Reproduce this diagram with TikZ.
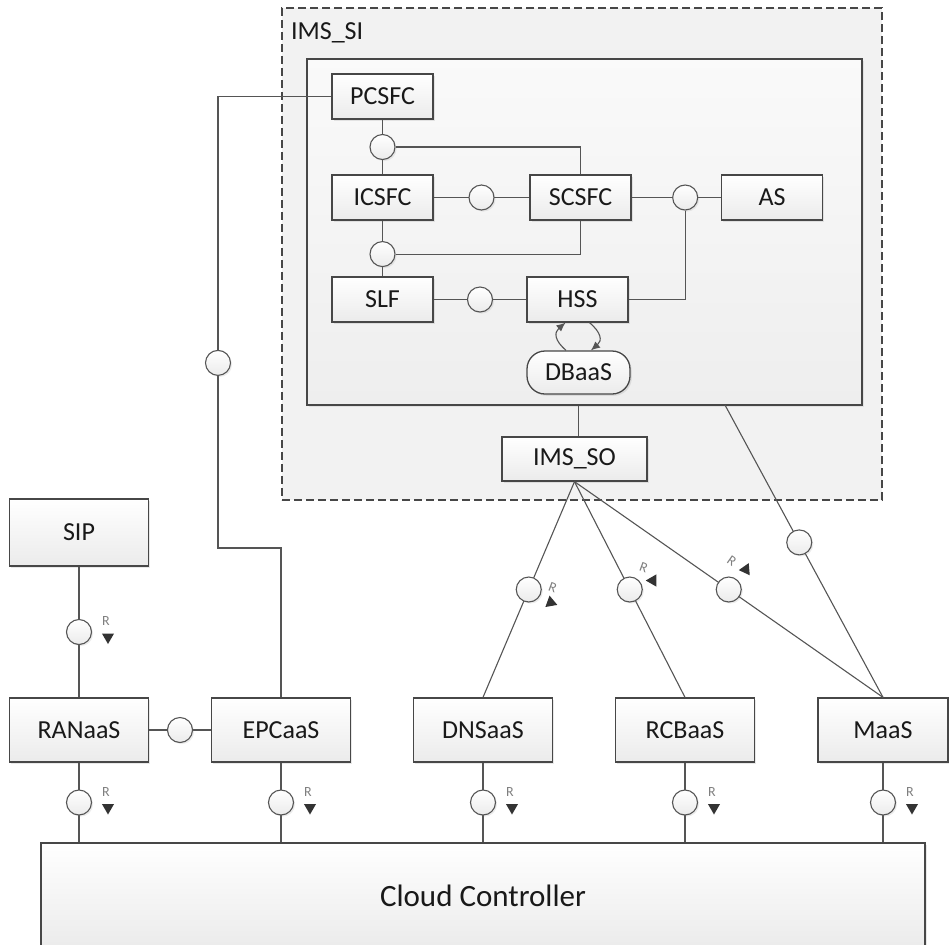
\documentclass[tikz,border=0pt]{standalone}
\usepackage{fontspec}
\setmainfont{Carlito}
\usepackage{tikz}
\usetikzlibrary{arrows.meta,positioning,calc,shapes.geometric,shadows}
\definecolor{FrameGray}{HTML}{474747}
\definecolor{LinkGray}{HTML}{555555}
\definecolor{ShadeLow}{HTML}{EBEBEB}
\definecolor{ZoneFill}{HTML}{F2F2F2}
\definecolor{InnerLow}{HTML}{EEEEEE}
\definecolor{TagGray}{HTML}{7F7F7F}

\begin{document}
\begin{tikzpicture}[>=Latex,x=0.5pt,y=0.5pt,
  svc/.style={draw=FrameGray,line width=0.65pt,top color=white,bottom color=ShadeLow,minimum width=69.5pt,minimum height=32pt,inner sep=0pt,text=black!90,font=\fontsize{13}{15}\selectfont,drop shadow={opacity=0.18,shadow xshift=0.9pt,shadow yshift=-0.9pt}},
  fn/.style={svc,minimum width=50.5pt,minimum height=22.5pt},
  iface/.style={circle,draw=LinkGray,line width=0.55pt,top color=white,bottom color=ShadeLow,minimum size=12.5pt,inner sep=0pt,drop shadow={opacity=0.15,shadow xshift=0.8pt,shadow yshift=-0.8pt}},
  link/.style={draw=LinkGray,line width=0.55pt},
  rtag/.style={text=TagGray,font=\fontsize{7}{8}\selectfont,inner sep=0pt},
  rtip/.style={regular polygon,regular polygon sides=3,fill=black!80,inner sep=0pt,minimum size=7pt}]
\useasboundingbox (0,0) rectangle (949,-944);

% IMS_SI zone and its inner frame
\node[draw=FrameGray,dashed,dash pattern=on 4pt off 2pt,line width=0.6pt,fill=ZoneFill,minimum width=300pt,minimum height=246pt,inner sep=0pt] (imssi) at (582,-254) {};
\node[anchor=base west,font=\fontsize{13}{15}\selectfont,text=black!90] (sititle) at (284,-39) {IMS\_SI};
\node[draw=FrameGray,line width=0.65pt,top color=white!60!ZoneFill,bottom color=InnerLow,minimum width=277.5pt,minimum height=173pt,inner sep=0pt,drop shadow={opacity=0.15,shadow xshift=0.9pt,shadow yshift=-0.9pt}] (inner) at (584.5,-232) {};

% functions inside the IMS_SI
\node[fn] (pcsfc) at (382.5,-96.5) {PCSFC};
\node[fn] (icsfc) at (382.5,-197.5) {ICSFC};
\node[fn] (scsfc) at (580.5,-197.5) {SCSFC};
\node[fn] (as) at (772,-197.5) {AS};
\node[fn] (slf) at (382.5,-299.5) {SLF};
\node[fn] (hss) at (577.5,-299.5) {HSS};
\node[fn,rounded corners=9pt,minimum width=51.5pt,minimum height=21.5pt] (dbaas) at (578.5,-372.5) {DBaaS};
\node[fn,minimum width=72.5pt,minimum height=22pt] (imsso) at (574.5,-459) {IMS\_SO};

% supporting services
\node[svc,minimum height=33.5pt] (sip) at (79,-532.5) {SIP};
\node[svc] (ranaas) at (79,-730) {RANaaS};
\node[svc] (epcaas) at (281,-730) {EPCaaS};
\node[svc] (dnsaas) at (483,-730) {DNSaaS};
\node[svc] (rcbaas) at (685,-730) {RCBaaS};
\node[svc,minimum width=65pt] (maas) at (883,-730) {MaaS};
\node[svc,minimum width=442pt,minimum height=53pt,font=\fontsize{15.5}{18}\selectfont] (cloud) at (483,-896) {Cloud Controller};

% links inside the IMS_SI
\draw[link] (pcsfc) -- node[iface] (c1) {} (icsfc);
\draw[link] (c1.east) -| (scsfc.north);
\draw[link] (icsfc) -- node[iface] (c2) {} (scsfc);
\draw[link] (scsfc) -- node[iface,pos=0.6] (c3) {} (as);
\draw[link] (c3.south) |- (hss.east);
\draw[link] (icsfc) -- node[iface,pos=0.6] (c4) {} (slf);
\draw[link] (c4.east) -| (scsfc.south);
\draw[link] (slf) -- node[iface] (c5) {} (hss);
\draw[link,-{Latex[length=4.5pt,width=4pt]}] ([xshift=-6.2pt]dbaas.north) to[out=140,in=220,looseness=1.4] ([xshift=-6pt]hss.south);
\draw[link,-{Latex[length=4.5pt,width=4pt]}] ([xshift=6pt]hss.south) to[out=-40,in=40,looseness=1.4] ([xshift=6.2pt]dbaas.north);
\draw[link] (inner.south -| dbaas) -- (imsso.north -| dbaas);

% links to the services
\coordinate (pk) at (218,-96.5);
\coordinate (ek) at (218,-548);
\coordinate (mk) at (725,-405);
\draw[link] (pcsfc.west) -- (pk) -- node[iface,pos=0.59] (c6) {} (ek) -| (epcaas.north);
\draw[link] (sip) -- node[iface] (c7) {} (ranaas);
\draw[link] (ranaas) -- node[iface] (c8) {} (epcaas);
\draw[link] (imsso.south) -- node[iface] (c9) {} (dnsaas.north);
\draw[link] (imsso.south) -- node[iface] (c10) {} (rcbaas.north);
\draw[link] (imsso.south) -- node[iface] (c11) {} (maas.north);
\draw[link] (mk) -- node[iface,pos=0.47] (c12) {} (maas.north);
\foreach \s/\k in {ranaas/cb1,epcaas/cb2,dnsaas/cb3,rcbaas/cb4,maas/cb5}
  \draw[link] (\s) -- node[iface] (\k) {} (\s |- cloud.north);

% required-interface tags
\foreach \k in {c7,cb1,cb2,cb3,cb4,cb5}{
  \node[rtag] (r-\k) at ($(\k)+(27,11)$) {R};
  \node[rtip,rotate=180] (t-\k) at ($(\k)+(29,-5)$) {};
}
\node[rtag,rotate=-20] (r-c9) at ($(c9)+(24,2)$) {R};
\node[rtip,rotate=-110] (t-c9) at ($(c9)+(22,-13)$) {};
\node[rtag,rotate=-20] (r-c10) at ($(c10)+(14,22)$) {R};
\node[rtip,rotate=90] (t-c10) at ($(c10)+(23,9)$) {};
\node[rtag,rotate=-35] (r-c11) at ($(c11)+(3,29)$) {R};
\node[rtip,rotate=-25] (t-c11) at ($(c11)+(17,20)$) {};
\end{tikzpicture}
\end{document}
